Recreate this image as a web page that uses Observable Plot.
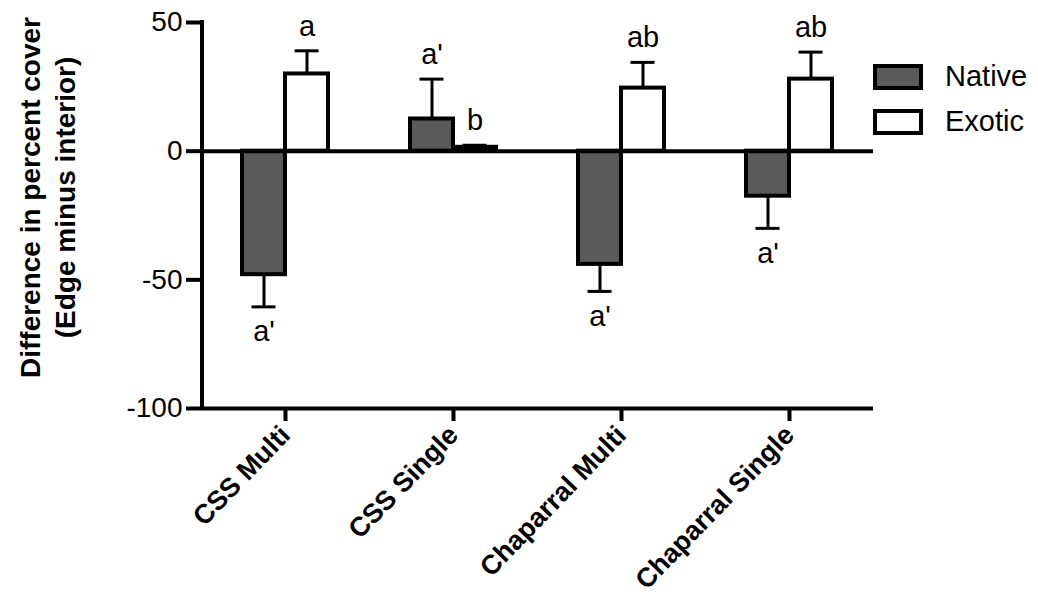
<!DOCTYPE html>
<html>
<head>
<meta charset="utf-8">
<script src="https://cdn.jsdelivr.net/npm/d3@7"></script>
<script src="https://cdn.jsdelivr.net/npm/@observablehq/plot@0.6"></script>
<style>
  html, body { margin: 0; padding: 0; background: #fff; }
  #wrap { position: relative; width: 1038px; height: 603px; font-family: "Liberation Sans", Arial, sans-serif; }
  .legend { position: absolute; left: 873px; top: 54px; }
  .item { display: flex; align-items: center; height: 45px; }
  .box { width: 50px; height: 26px; box-sizing: border-box; border: 4px solid #000; margin-right: 22px; }
  .lab { font-size: 29px; color: #000; }
</style>
</head>
<body>
<div id="wrap"></div>
<script>
const categories = ["CSS Multi", "CSS Single", "Chaparral Multi", "Chaparral Single"];
const series = ["Native", "Exotic"];
const seriesColors = ["#5a5a5a", "#ffffff"];
const nativeMean = [-48, 12.5, -44, -17.5];
const nativeSE = [12.5, 15.5, 10.5, 12.5];
const exoticMean = [30, 1.5, 24.5, 28];
const exoticSE = [9, 0.8, 10, 10.5];
const nativeLetters = ["a'", "a'", "a'", "a'"];
const exoticLetters = ["a", "b", "ab", "ab"];
const yTicks = [-100, -50, 0, 50];
const yTitle = "Difference in percent cover\n(Edge minus interior)";

const rows = [];
categories.forEach((c, i) => {
  [[series[0], nativeMean[i], nativeSE[i], nativeLetters[i]],
   [series[1], exoticMean[i], exoticSE[i], exoticLetters[i]]].forEach(([s, m, se, l]) => {
    const end = m + (m >= 0 ? se : -se);
    rows.push({category: c, series: s, mean: m, se, end, letter: l});
  });
});

const font = '"Liberation Sans", Arial, sans-serif';

const chart = Plot.plot({
  width: 1038,
  height: 603,
  marginLeft: 201,
  marginRight: 165,
  marginTop: 22,
  marginBottom: 195,
  style: {fontFamily: font, fontSize: "28px", background: "white", color: "black"},
  fx: {domain: categories, padding: 0, label: null},
  x: {domain: series, paddingInner: 0, paddingOuter: 0.95, axis: null},
  y: {domain: [-100, 50], label: null},
  color: {domain: series, range: seriesColors},
  marks: [
    Plot.ruleX(rows, {fx: "category", x: "series", y1: "mean", y2: "end", stroke: "black", strokeWidth: 3}),
    Plot.tickY(rows, {fx: "category", x: "series", y: "end", stroke: "black", strokeWidth: 3, inset: 9.5}),
    Plot.barY(rows, {fx: "category", x: "series", y1: 0, y2: "mean", fill: "series", stroke: "black", strokeWidth: 4}),
    Plot.ruleY([0], {stroke: "black", strokeWidth: 4}),
    Plot.ruleY([-100], {stroke: "black", strokeWidth: 4}),
    Plot.text(rows.filter(d => d.end >= d.mean), {fx: "category", x: "series", y: "end", text: "letter", lineAnchor: "bottom", dy: -15, fontSize: 29, fill: "black"}),
    Plot.text(rows.filter(d => d.end < d.mean), {fx: "category", x: "series", y: "end", text: "letter", lineAnchor: "top", dy: 14, fontSize: 29, fill: "black"}),
    Plot.axisY({ticks: yTicks, tickFormat: d => String(d), tickSize: 15, tickPadding: 4, strokeWidth: 4, fontSize: 28, label: null}),
    Plot.axisFx({anchor: "bottom", tickSize: 13, tickPadding: 9, tickRotate: -46, strokeWidth: 4, fontSize: 27, fontWeight: "bold", label: null}),
    Plot.text([yTitle], {fx: [categories[0]], frameAnchor: "left", rotate: -90, dx: -155, dy: -18, fontSize: 28, fontWeight: "bold", lineHeight: 1.25, textAnchor: "middle", fill: "black"})
  ]
});

// vertical y-axis line drawn from the chart's own scales
const ys = chart.scale("y");
const fxs = chart.scale("fx");
const x0 = fxs.range[0] + 1;
d3.select(chart).append("line")
  .attr("x1", x0).attr("x2", x0)
  .attr("y1", ys.apply(yTicks[yTicks.length - 1]) - 2)
  .attr("y2", ys.apply(yTicks[0]) + 2)
  .attr("stroke", "black").attr("stroke-width", 4);

const wrap = document.getElementById("wrap");
wrap.appendChild(chart);

const legend = document.createElement("div");
legend.className = "legend";
series.forEach((s, i) => {
  const item = document.createElement("div");
  item.className = "item";
  const box = document.createElement("div");
  box.className = "box";
  box.style.background = seriesColors[i];
  const lab = document.createElement("span");
  lab.className = "lab";
  lab.textContent = s;
  item.appendChild(box);
  item.appendChild(lab);
  legend.appendChild(item);
});
wrap.appendChild(legend);
</script>
</body>
</html>
